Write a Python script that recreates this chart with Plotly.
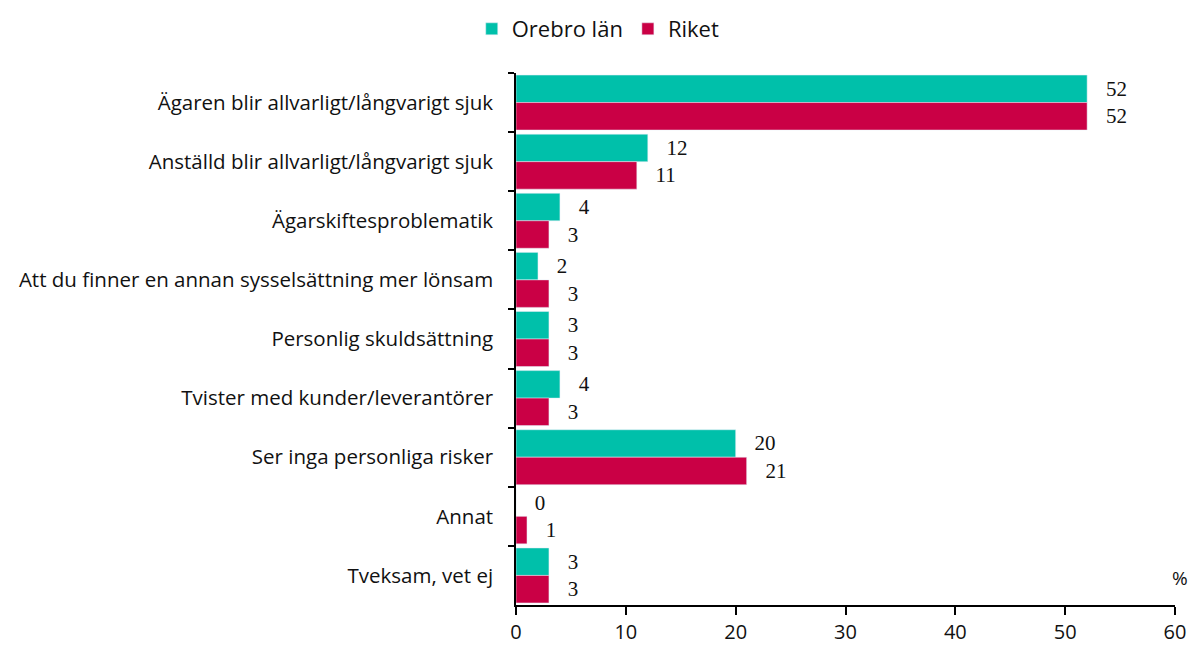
import plotly.graph_objects as go

categories = [
    "Ägaren blir allvarligt/långvarigt sjuk",
    "Anställd blir allvarligt/långvarigt sjuk",
    "Ägarskiftesproblematik",
    "Att du finner en annan sysselsättning mer lönsam",
    "Personlig skuldsättning",
    "Tvister med kunder/leverantörer",
    "Ser inga personliga risker",
    "Annat",
    "Tveksam, vet ej",
]
orebro = [52, 12, 4, 2, 3, 4, 20, 0, 3]
riket = [52, 11, 3, 3, 3, 3, 21, 1, 3]

teal = "#00C0AA"
crimson = "#CA0045"
label_font = dict(family="Liberation Serif, DejaVu Serif, serif", size=21, color="#111111")
pad = "\u00a0\u00a0\u00a0"

fig = go.Figure()
fig.add_trace(go.Bar(
    y=categories, x=orebro, orientation="h", name="Orebro län",
    marker=dict(color=teal), text=[pad + str(v) for v in orebro],
    textposition="outside", textfont=label_font, cliponaxis=False,
))
fig.add_trace(go.Bar(
    y=categories, x=riket, orientation="h", name="Riket",
    marker=dict(color=crimson), text=[pad + str(v) for v in riket],
    textposition="outside", textfont=label_font, cliponaxis=False,
))

# page body has an 8px margin, so the figure is shrunk by that amount
fig.update_layout(
    width=1190, height=645,
    margin=dict(l=508, r=23, t=65, b=48, autoexpand=False),
    barmode="group", bargap=0.07, bargroupgap=0,
    plot_bgcolor="white", paper_bgcolor="white",
    font=dict(family="Open Sans, Noto Sans, sans-serif", size=18, color="#111111"),
    legend=dict(orientation="h", x=0.496, xanchor="center", xref="container",
                y=1.0, yanchor="top", yref="container", font=dict(size=22),
                traceorder="normal"),
)
fig.update_xaxes(
    range=[0, 60], dtick=10, showgrid=False, zeroline=False,
    showline=True, linecolor="black", linewidth=1.5,
    ticks="outside", ticklen=8, tickcolor="black", tickwidth=1.5,
    tickfont=dict(size=20),
)
fig.update_yaxes(
    autorange="reversed", showgrid=False, showline=True, linecolor="black",
    linewidth=1.5, ticks="outside", ticklen=6, tickcolor="black", tickwidth=1.5,
    tickson="boundaries", tickfont=dict(size=20.5), ticklabelstandoff=17,
)
fig.add_annotation(text="%", x=1, y=0, xref="paper", yref="paper",
                   xanchor="center", yanchor="bottom", yshift=12, xshift=5,
                   showarrow=False, font=dict(size=19))

fig.write_html("out.html")
